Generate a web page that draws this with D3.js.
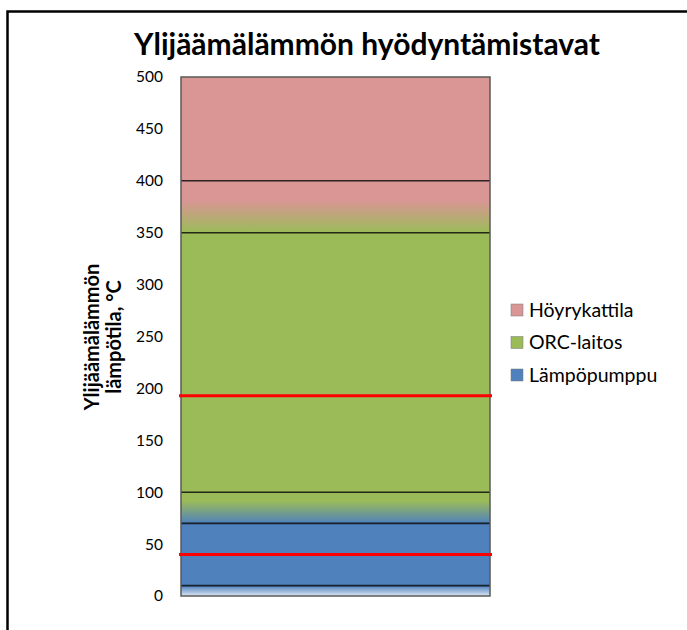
<!DOCTYPE html>
<html>
<head>
<meta charset="utf-8">
<script src="https://cdn.jsdelivr.net/npm/d3@7"></script>
<style>
  body { margin: 0; background: #fff; }
  text { font-family: Lato, "Liberation Sans", sans-serif; fill: #000; }
</style>
</head>
<body>
<svg id="chart" width="687" height="630"></svg>
<script>
// legend order, top to bottom
const seriesNames = ["Höyrykattila", "ORC-laitos", "Lämpöpumppu"];
// temperature bands of the single stacked bar (°C)
const bandEdges = [0, 10, 70, 100, 350, 400, 500];
const bandLower = ["pale", "Lämpöpumppu", "Lämpöpumppu", "ORC-laitos", "ORC-laitos", "Höyrykattila"];
const bandUpper = ["Lämpöpumppu", "Lämpöpumppu", "ORC-laitos", "ORC-laitos", "Höyrykattila", "Höyrykattila"];
const redLines = [40, 193];
const yTicks = [0, 50, 100, 150, 200, 250, 300, 350, 400, 450, 500];
const category = ["Ylijäämälämpö"];

const colors = {
  "Höyrykattila": "#d99694",
  "ORC-laitos": "#9bbb59",
  "Lämpöpumppu": "#4f81bd",
  "pale": "#dde6f2"
};

var svg = d3.select("#chart");

// frame (only top and left edges visible)
svg.append("path")
  .attr("d", "M7.5,630 V11.5 H687")
  .attr("fill", "none")
  .attr("stroke", "#000")
  .attr("stroke-width", 2.5);

svg.append("text")
  .attr("x", 367)
  .attr("y", 55)
  .attr("text-anchor", "middle")
  .style("font-size", "30px")
  .style("font-weight", "bold")
  .text("Ylijäämälämmön hyödyntämistavat");

var y = d3.scaleLinear().domain([0, 500]).range([596, 77]);
var x = d3.scaleBand().domain(category).range([181, 490]).padding(0);

var bands = d3.range(bandLower.length).map(function(i) {
  return {lo: bandEdges[i], hi: bandEdges[i + 1], lower: bandLower[i], upper: bandUpper[i], i: i};
});

// gradients: upper colour holds near top, blends to lower colour at bottom
var defs = svg.append("defs");
bands.forEach(function(b) {
  var g = defs.append("linearGradient")
    .attr("id", "grad" + b.i)
    .attr("x1", 0).attr("y1", 1).attr("x2", 0).attr("y2", 0);
  var hold = b.lo === 350 ? 0.62 : (b.lo === 70 ? 0.72 : 1);
  g.append("stop").attr("offset", 0).attr("stop-color", colors[b.lower]);
  g.append("stop").attr("offset", hold).attr("stop-color", colors[b.upper]);
  g.append("stop").attr("offset", 1).attr("stop-color", colors[b.upper]);
});

var g = svg.append("g");

g.selectAll(".band")
  .data(bands)
  .enter().append("rect")
    .attr("class", "band")
    .attr("x", x(category[0]))
    .attr("width", x.bandwidth())
    .attr("y", function(d) { return y(d.hi); })
    .attr("height", function(d) { return y(d.lo) - y(d.hi); })
    .attr("fill", function(d) { return "url(#grad" + d.i + ")"; });

// boundary lines between bands
g.selectAll(".edge")
  .data(bandEdges.slice(1, -1))
  .enter().append("line")
    .attr("class", "edge")
    .attr("x1", x(category[0]))
    .attr("x2", x(category[0]) + x.bandwidth())
    .attr("y1", function(d) { return y(d); })
    .attr("y2", function(d) { return y(d); })
    .attr("stroke", "#000")
    .attr("stroke-opacity", 0.8)
    .attr("stroke-width", 1.6);

// bar outline
g.append("rect")
  .attr("x", x(category[0]))
  .attr("width", x.bandwidth())
  .attr("y", y(500))
  .attr("height", y(0) - y(500))
  .attr("fill", "none")
  .attr("stroke", "#5a5a5a")
  .attr("stroke-width", 1.5);

// red reference lines
g.selectAll(".red")
  .data(redLines)
  .enter().append("line")
    .attr("class", "red")
    .attr("x1", x(category[0]) - 2)
    .attr("x2", x(category[0]) + x.bandwidth() + 2)
    .attr("y1", function(d) { return y(d); })
    .attr("y2", function(d) { return y(d); })
    .attr("stroke", "#ff0000")
    .attr("stroke-width", 3);

// y axis
var axis = svg.append("g")
  .attr("transform", "translate(168,0)")
  .call(d3.axisLeft(y).tickValues(yTicks).tickSize(0).tickPadding(5));
axis.select(".domain").remove();
axis.selectAll("text")
  .style("font-size", "15.5px")
  .style("font-family", "Lato, 'Liberation Sans', sans-serif")
  .attr("fill", "#000");

var title = svg.append("text")
  .attr("transform", "translate(99,337) rotate(-90)")
  .attr("text-anchor", "middle")
  .style("font-size", "20px")
  .style("font-weight", "bold");
title.append("tspan").attr("x", 0).attr("dy", 0).text("Ylijäämälämmön");
title.append("tspan").attr("x", 0).attr("dy", 22).text("lämpötila, °C");

// legend
var legend = svg.append("g").attr("transform", "translate(511,304)");
var items = legend.selectAll(".item")
  .data(seriesNames)
  .enter().append("g")
    .attr("class", "item")
    .attr("transform", function(d, i) { return "translate(0," + i * 32.5 + ")"; });
items.append("rect")
  .attr("width", 12).attr("height", 12)
  .attr("fill", function(d) { return colors[d]; })
  .attr("stroke", "#777").attr("stroke-width", 0.5);
items.append("text")
  .attr("x", 18).attr("y", 12.5)
  .style("font-size", "19.5px")
  .text(function(d) { return d; });
</script>
</body>
</html>
